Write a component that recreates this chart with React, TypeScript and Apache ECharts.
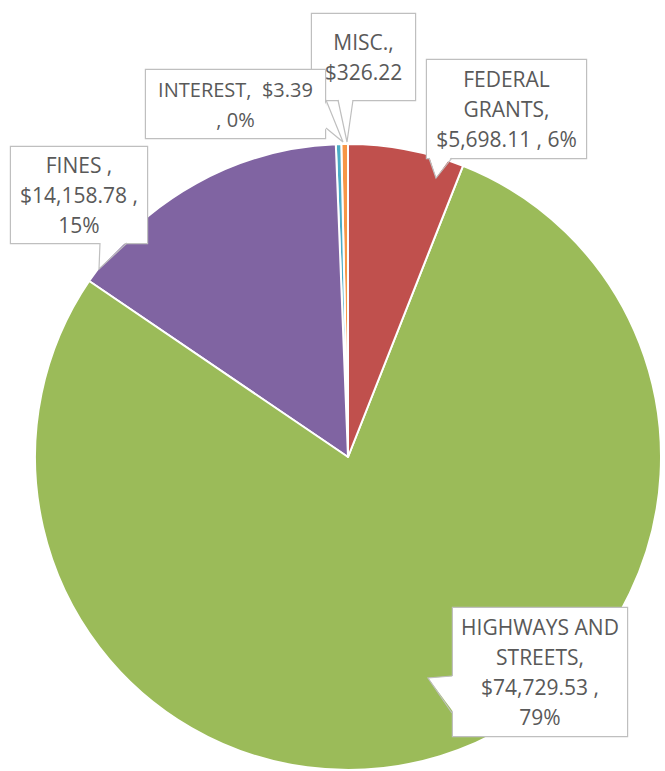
import React, { useEffect, useRef } from 'react';
import * as echarts from 'echarts';

// Data (listed in drawing order: counter-clockwise from 12 o'clock)
const categories = ['MISC.', 'INTEREST', 'FINES', 'HIGHWAYS AND STREETS', 'FEDERAL GRANTS'];
const amounts = [326.22, 3.39, 14158.78, 74729.53, 5698.11];
const sliceColors = ['#F79646', '#4BACC6', '#8064A2', '#9BBB59', '#C0504D'];
// {v} = value, {p} = percent
const labelTemplates = [
  'MISC.,\n{v}',
  'INTEREST,  {v}\n, {p}',
  'FINES ,\n{v} ,\n{p}',
  'HIGHWAYS AND\nSTREETS,\n{v} ,\n{p}',
  'FEDERAL\nGRANTS,\n{v} , {p}',
];
// label box centers and sizes
const labelBoxes = [
  { cx: 363.5, cy: 57, w: 105, py: 13, fs: 21 },
  { cx: 235.5, cy: 104, w: 181, py: 4, fs: 20 },
  { cx: 79, cy: 195, w: 138, py: 3, fs: 21 },
  { cx: 540, cy: 672, w: 176, py: 4, fs: 21 },
  { cx: 506.5, cy: 109, w: 161, py: 4, fs: 21 },
];
// callout tails: base point, tip, base point, inward offset
const calloutTails = [
  { pts: [[338, 100], [347, 142], [353, 100]], inward: [0, -2] },
  { pts: [[326, 100], [343, 142], [326, 128]], inward: [-2, 0] },
  { pts: [[100, 243], [99, 269], [127, 243]], inward: [0, -2] },
  { pts: [[452, 676], [428, 678], [452, 713]], inward: [2, 0] },
  { pts: [[429, 158], [436, 178], [452, 158]], inward: [0, -2] },
];

const fmtMoney = (v: number) =>
  '$' + v.toLocaleString('en-US', { minimumFractionDigits: 2, maximumFractionDigits: 2 });

export default function App() {
  const ref = useRef<HTMLDivElement>(null);
  useEffect(() => {
    if (!ref.current) return;
    const chart = echarts.init(ref.current, undefined, { renderer: 'svg' });
    const data = categories.map((name, i) => ({
      name,
      value: amounts[i],
      itemStyle: { color: sliceColors[i] },
      label: {
        width: labelBoxes[i].w - 2,
        padding: [labelBoxes[i].py, 0],
        fontSize: labelBoxes[i].fs,
      },
    }));
    const tailGraphics: any[] = [];
    calloutTails.forEach((t) => {
      const [b1, tip, b2] = t.pts;
      const [dx, dy] = t.inward;
      tailGraphics.push({
        type: 'polygon',
        z: 100,
        silent: true,
        shape: {
          points: [
            [b1[0] + dx, b1[1] + dy],
            tip,
            [b2[0] + dx, b2[1] + dy],
          ],
        },
        style: { fill: '#ffffff', stroke: 'none' },
      });
      tailGraphics.push({
        type: 'polyline',
        z: 101,
        silent: true,
        shape: { points: [b1, tip, b2] },
        style: { stroke: '#BFBFBF', lineWidth: 1.2, fill: 'none' },
      });
    });
    chart.setOption({
      animation: false,
      backgroundColor: '#ffffff',
      graphic: tailGraphics,
      series: [
        {
          type: 'pie',
          center: [348, 457],
          radius: 313,
          startAngle: 90,
          clockwise: false,
          minAngle: 1,
          avoidLabelOverlap: false,
          data,
          itemStyle: { borderColor: '#ffffff', borderWidth: 2 },
          label: {
            show: true,
            position: 'outside',
            formatter: (p: any) =>
              labelTemplates[p.dataIndex]
                .replace('{v}', fmtMoney(p.value))
                .replace('{p}', Math.round(p.percent) + '%'),
            fontFamily: 'Open Sans',
            fontSize: 21,
            lineHeight: 30,
            color: '#595959',
            align: 'center',
            backgroundColor: '#ffffff',
            borderColor: '#BFBFBF',
            borderWidth: 1.2,
          },
          labelLine: { show: false },
          labelLayout: (params: any) => {
            const b = labelBoxes[params.dataIndex];
            return { x: b.cx, y: b.cy, align: 'center', verticalAlign: 'middle' };
          },
          emphasis: { disabled: true },
        },
      ],
    });
    return () => chart.dispose();
  }, []);
  return (
    <div
      ref={ref}
      style={{ position: 'absolute', left: 0, top: 0, width: 665, height: 771 }}
    />
  );
}
